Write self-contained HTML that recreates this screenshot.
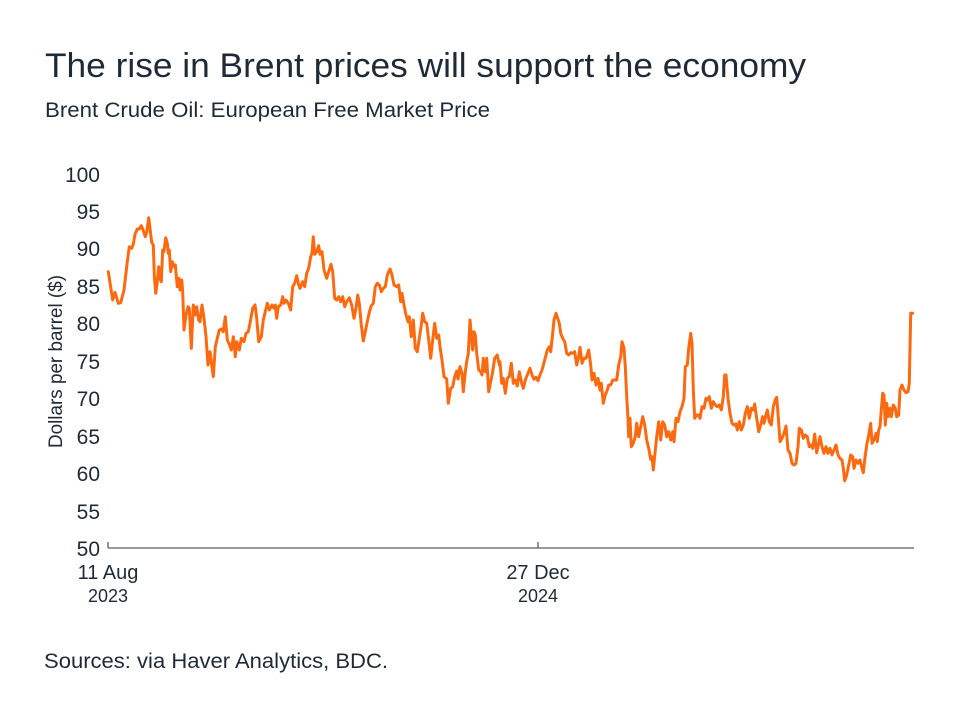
<!DOCTYPE html>
<html>
<head>
<meta charset="utf-8">
<style>
html,body{margin:0;padding:0;background:#ffffff;}
svg{display:block;}
text{font-family:"Liberation Sans",sans-serif;fill:#1e2a35;}
</style>
</head>
<body>
<svg width="960" height="720" viewBox="0 0 960 720" xmlns="http://www.w3.org/2000/svg">
<rect width="960" height="720" fill="#ffffff"/>
<text x="45" y="77" font-size="34" textLength="761" lengthAdjust="spacingAndGlyphs">The rise in Brent prices will support the economy</text>
<text x="45" y="117" font-size="21" textLength="445" lengthAdjust="spacingAndGlyphs">Brent Crude Oil: European Free Market Price</text>

<g font-size="21" text-anchor="end">
<text x="100" y="182">100</text>
<text x="100" y="219">95</text>
<text x="100" y="256">90</text>
<text x="100" y="294">85</text>
<text x="100" y="331">80</text>
<text x="100" y="369">75</text>
<text x="100" y="406">70</text>
<text x="100" y="444">65</text>
<text x="100" y="481">60</text>
<text x="100" y="519">55</text>
<text x="100" y="556">50</text>
</g>

<text transform="translate(62,361.5) rotate(-90)" font-size="19" text-anchor="middle" textLength="173" lengthAdjust="spacingAndGlyphs">Dollars per barrel ($)</text>

<line x1="108" y1="548" x2="914" y2="548" stroke="#5a5f63" stroke-width="1.3"/>
<line x1="108" y1="542" x2="108" y2="548" stroke="#5a5f63" stroke-width="1.3"/>
<line x1="538" y1="542" x2="538" y2="548" stroke="#5a5f63" stroke-width="1.3"/>

<g text-anchor="middle">
<text x="108" y="579" font-size="20">11 Aug</text>
<text x="108" y="602" font-size="18">2023</text>
<text x="538" y="579" font-size="20">27 Dec</text>
<text x="538" y="602" font-size="18">2024</text>
</g>

<polyline fill="none" stroke="#fb6a10" stroke-width="3" stroke-linejoin="round" stroke-linecap="round" points="
108.3,271.7 112.7,300 115,292.3 118.3,303.3 120.7,302.7 124,290 127.3,261.7 129.3,246.7 131.7,248.3 133.3,244.3 135,234.3 137.3,229 139.3,229 141.3,225.7 142.7,229 145.3,236.7 146.7,232.3 148.7,217.7 150,228.3 151.7,242.3 153.3,245 154.3,275 155.7,293.3 157.3,281.7 158.7,266.7 160,278.3 161.3,281.7 162.7,250 164,251.7 165.7,237.7 167.3,243.3 168.3,253.3 169.3,250 170.7,271.7 172.3,261.7 174,266.7 175.3,265 177.3,286.7 179,278.3 180,290 181.7,280 182.7,291.7 184,330 186,315 188,306.7 189.3,308.3 191.3,348.3 193.3,305 195.3,315 196.7,306.7 198.7,320 200,321.7 202,305 204,318.3 206,336.7 208,365 210,351.7 211.3,361.7 213.3,376.7 215.3,346.7 217.3,338.3 219.3,330 221.7,329 223.3,331.7 225.3,316.7 227.3,340 229.3,344.3 231.3,350 233.3,336.7 235.3,356.7 236.7,341.7 239.3,350 241.3,338.3 244,341.7 246,333.3 248.3,331.7 250,323.3 252.7,308.3 255,305 256.7,318.3 258.7,341.7 261.3,336.7 263.3,320 265.3,311.7 267.3,303.3 269.3,310 272,305 274,308.3 275.3,305 276.7,318.3 278.3,306.7 280.7,305 282.7,296.7 284,303.3 286,300 288.3,303.3 290.7,310 292.7,286.7 294.7,283.3 296.7,275.7 298.7,285
300,288.3 302.7,281.7 304.7,286.7 306.7,273.3 308.7,268.3 310.7,256.7 312,253.3 313.3,236.7 314.7,254.3 316.7,251.7 318.7,245.7 320,254.3 322,251.7 324,270 326.7,278.3 328.7,271.7 331,264.3 332.7,271.7 334.7,298.3 336.7,300 338.7,296.7 340.7,301.7 342.7,296.7 344.7,306.7 346.7,301.7 349.3,297.7 351.7,305 354,318.3 356,308.3 357.7,295 359.3,303.3 361.3,325 363.3,341 365.3,331.7 367.3,321.7 369.3,312.3 371.3,305.7 373.3,303.3 375.3,286.7 377.3,283.3 379.3,285 381.3,291.7 383.3,288.3 385.3,286.7 387.3,275 390,269 392,275 394,285 396.7,286.7 398.7,285 400.7,301.7 402,293.3 404,305 406,315 408,321.7 409.3,316.7 411.3,336.7 413.3,320 415.3,348.3 417.3,351.7 419.3,338.3 421.3,325 422.7,313.3 424.7,321.7 426.7,323.3 428.7,340 430.7,358.3 432.7,340 434.7,323.3 436.7,338.3 438.7,335 440,346.7 442,360 444,376.7 446.7,379 448.3,403.3 450.7,388.3 452.7,386.7 454.7,376.7 456.7,371 458,379 460,366.7 462,373.3 463.3,391.7 465.3,371.7 466.7,361.7 468.3,353.3 470,320 471.3,335 472.7,350 474,331.7 475.3,335 476.7,353.3 478.7,370 480.7,371.7 482,375 483.3,358.3 485.3,371.7 486.7,358.3 488.7,391.7 490.7,381.7 492.7,371.7 494.7,358.3 497.3,355 499.3,365
500,361.7 501.7,383.3 503.3,378.3 505.3,393.3 507.3,378.3 509.3,376.7 511.3,363.3 513.3,383.3 515.3,380 517.3,386 519.3,371.7 521.3,381.7 523.3,388.3 525.3,380 527.3,375 530,368.3 532,375 534,379.3 536,377.3 538,380.7 540,375 542,370 544,362.7 546,355 547.3,350 549.3,346.7 550.7,351.7 552.7,333.3 554,320 556,313.3 558,319.3 559.3,323.3 560.7,333.3 562.7,338.3 564.7,341.7 566.7,353.3 568.7,355 570.7,352.7 572.7,353.3 574.7,351.7 576.7,365 578.7,356.7 580,347.3 582,363.3 584,358.3 586,358.3 588.7,350 590.7,365 592,380 594,373.3 596,385 598,378.3 600,390 601.3,383.3 603.3,403.3 605.3,395 607.3,390 608.7,385 610.7,385 612.7,380 614.7,380 616.7,380 618.7,365 620.7,356.7 622,341.7 624,348.3 625.3,366.7 626.7,396.7 628,418.3 628.7,436.7 630,418.3 631.3,446.7 633.3,443.3 635.3,436.7 636.7,423.3 638.7,436.7 640.7,426.7 642.7,416.7 644.7,425 646.7,440 648.7,448.3 650.7,459.3 652,456.7 653.3,470 655.3,450 656.7,436.7 658.7,421.7 660.7,440 662.7,421.7 664.7,425 666.7,436.7 668.7,431.7 670.7,440 672.7,431.7 674,441.7 676,418.3 678,421.7 680,411.7 682,406.7 684,398.3 685.3,366.7 687.3,365 688.7,348.3 690.7,333.3 692,343.3 693.3,390 694.7,418.3 696.7,415 698.7,415
700,418.3 702,406.7 704,408.3 706,398.3 708,400 709.3,396.7 711.3,408.3 713.3,401.7 715.3,405 717.3,406.7 719.3,405 721.3,410 723.3,396.7 724.7,375 726,375 728,398.3 730,413.3 732,423.3 734,425 736,424 737.3,430 739.3,421.7 741.3,430 743.3,425 745.3,413.3 747.3,406.7 749.3,418.3 751.3,408.3 753.3,410 754.7,404 756.7,418.3 758.7,431.7 760.7,425 762.7,416.7 764,423.3 766,415 767.3,410 769.3,421.7 771.3,425 773.3,406.7 775.3,400 776.7,397.3 778,413.3 780,441.7 782,438.3 784,433.3 786,426 788,450 790,453.3 792,463.3 794,465 796,463.3 798,446.7 799.3,428.3 801.3,430 803.3,438.3 805.3,435 807.3,436.7 809.3,446.7 811.3,445 812.7,448.3 814.7,434 816.7,452.7 818.7,443.3 820,436.7 822,446.7 824,453.3 826,446.7 828,453.3 830,448.3 832,455 834,450 836,445 838,455 840,458.3 842,460 843.3,468.3 844.7,480.7 846.7,475 848.7,465 850.7,455 852.7,456.7 854,468.3 856,460 858,463.3 860,460 862,468.3 863.3,472.7 864.7,460 866.7,445 868.7,435 870.7,423.3 872,443.3 874,440 876,433.3 877.3,441.7 878.7,430 880,426.7 881.3,410 882.7,393.3 884,395 885.3,425 886.7,403.3 888,416.7 890,408.3 891.3,416.7 893.3,405 895.3,408.3 896.7,416.7 898.7,415 900,390 902,385 904,390 906,392.7 908,391.7 909.3,383.3 910.7,313.3 912.7,313.3"/>

<text x="44" y="668" font-size="21" textLength="344" lengthAdjust="spacingAndGlyphs">Sources: via Haver Analytics, BDC.</text>
</svg>
</body>
</html>
